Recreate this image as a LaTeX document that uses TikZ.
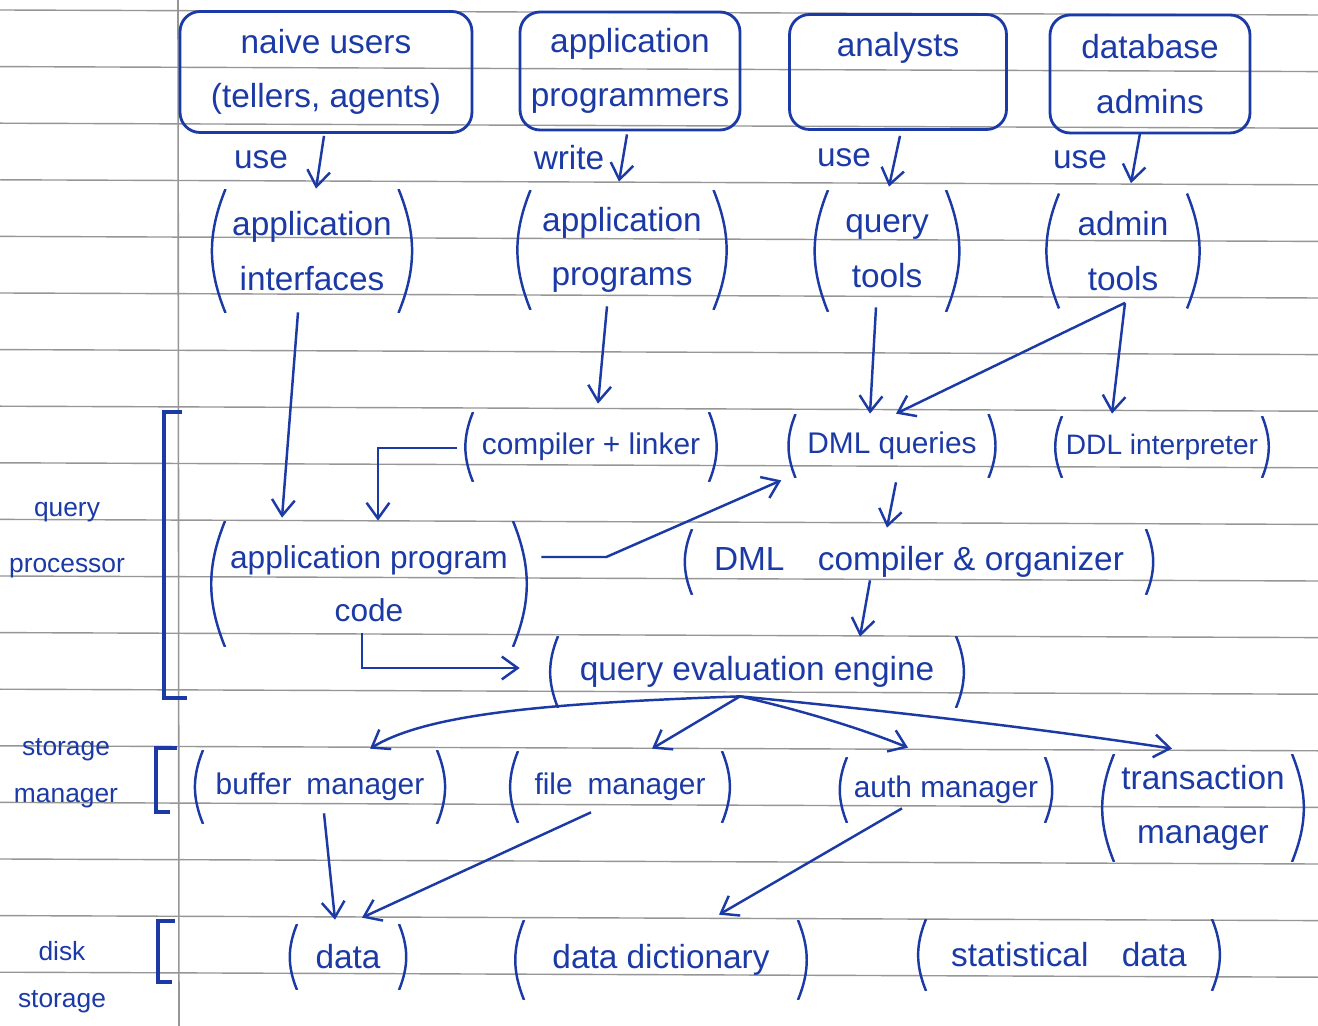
\documentclass[tikz,border=0pt]{standalone}
\usepackage{fontspec}
\setmainfont{Liberation Sans}
\usetikzlibrary{arrows.meta,calc}
\definecolor{ink}{RGB}{28,58,165}
\definecolor{rule}{RGB}{150,150,150}
\begin{document}
\begin{tikzpicture}[x=0.02cm,y=-0.02cm,
  hand/.style={text=ink, font=\fontsize{19}{31}\selectfont, align=center},
  small/.style={font=\fontsize{17}{28}\selectfont},
  side/.style={text=ink, font=\fontsize{15}{27}\selectfont, align=center},
  topbox/.style={hand, draw=ink, line width=1.6pt, rounded corners=0.4cm, inner sep=0pt},
  pn/.style={hand, inner sep=0pt, path picture={
     \draw[ink, line width=1.4pt]
       ([xshift=0.32cm]path picture bounding box.north west) to[bend right=22]
       ([xshift=0.32cm]path picture bounding box.south west);
     \draw[ink, line width=1.4pt]
       ([xshift=-0.32cm]path picture bounding box.north east) to[bend left=22]
       ([xshift=-0.32cm]path picture bounding box.south east);}},
  arr/.style={draw=ink, line width=1.4pt, -{Straight Barb[length=9pt,width=13pt]}},
  bracket/.style={draw=ink, line width=1.8pt}
]
% paper
\fill[white] (0,0) rectangle (1318,1026);
\useasboundingbox (0,0) rectangle (1318,1026);
\foreach \k in {0,...,17}
  \draw[rule, line width=0.8pt] (0,{10+56.6*\k}) -- (1318,{15+56.6*\k});
\draw[rule, line width=0.9pt] (178,0) -- (179,1026);

% users
\node[topbox, minimum width=5.84cm, minimum height=2.42cm] (nu) at (326,72) {naive users\\(tellers, agents)};
\node[topbox, minimum width=4.4cm, minimum height=2.36cm] (ap) at (630,71) {application\\programmers};
\node[topbox, minimum width=4.34cm, minimum height=2.3cm] (an) at (898,72) {analysts\\~};
\node[topbox, minimum width=4.0cm, minimum height=2.36cm] (da) at (1150,74) {database\\admins};

\node[hand] (u1) at (261,160) {use};
\node[hand] (u2) at (569,158) {write};
\node[hand] (u3) at (844,158) {use};
\node[hand] (u4) at (1080,160) {use};

% tools and programs
\node[pn, minimum width=4.1cm, minimum height=2.48cm] (ai) at (312,251) {application\\interfaces};
\node[pn, minimum width=4.3cm, minimum height=2.4cm] (apg) at (622,250) {application\\programs};
\node[pn, minimum width=3.0cm, minimum height=2.44cm] (qt) at (887,251) {query\\tools};
\node[pn, minimum width=3.2cm, minimum height=2.3cm] (adt) at (1123,251) {admin\\tools};

% query processor
\node[pn, small, minimum width=5.36cm, minimum height=1.4cm] (cl) at (591,447) {compiler + linker};
\node[pn, small, minimum width=4.5cm, minimum height=1.28cm] (dq) at (892,446) {DML queries};
\node[pn, font=\fontsize{16}{27}\selectfont, minimum width=4.64cm, minimum height=1.24cm] (ddl) at (1162,447) {DDL interpreter};
\node[pn, font=\fontsize{18}{30}\selectfont, minimum width=6.4cm, minimum height=2.52cm] (apc) at (369,584) {application program\\code};
\node[pn, minimum width=9.72cm, minimum height=1.32cm] (dmlc) at (919,562) {DML\quad compiler \& organizer};
\node[pn, minimum width=8.6cm, minimum height=1.44cm] (qe) at (757,672) {query evaluation engine};

% storage manager
\node[pn, small, minimum width=5.32cm, minimum height=1.48cm] (bm) at (320,787) {buffer\enspace manager};
\node[pn, small, minimum width=4.72cm, minimum height=1.44cm] (fm) at (620,787) {file\enspace manager};
\node[pn, small, minimum width=4.6cm, minimum height=1.32cm] (au) at (946,790) {auth manager};
\node[pn, minimum width=4.2cm, minimum height=2.16cm] (tm) at (1203,808) {transaction\\manager};

% disk storage
\node[pn, minimum width=2.68cm, minimum height=1.32cm] (data) at (348,957) {data};
\node[pn, minimum width=6.12cm, minimum height=1.6cm] (dd) at (661,960) {data dictionary};
\node[pn, minimum width=6.36cm, minimum height=1.44cm] (sd) at (1069,955) {statistical\quad data};

% layer labels and brackets
\node[side, font=\fontsize{15}{32}\selectfont] (lqp) at (67,540) {query\\processor};
\node[side] (lsm) at (66,773) {storage\\manager};
\node[side] (lds) at (62,977) {disk\\storage};
\draw[bracket] (182,412) -- (164,412) -- (164,698) -- (187,698);
\draw[bracket] (177,748) -- (156,748) -- (156,812) -- (170,812);
\draw[bracket] (175,921) -- (158,921) -- (158,982) -- (172,982);

% users to their tools
\draw[arr] ($(nu.south)+(-2,2)$) -- ($(ai.north)+(4,0)$);
\draw[arr] ($(ap.south)+(-3,3)$) -- ($(apg.north)+(-3,-8)$);
\draw[arr] ($(an.south)+(2,5)$) -- ($(qt.north)+(2,-3)$);
\draw[arr] ($(da.south)+(-10,-1)$) -- ($(adt.north)+(8,-10)$);

% tools into the query processor
\draw[arr] ($(ai.south)+(-14,-1)$) -- ($(apc.north)+(-87,-3)$);
\draw[arr] ($(apg.south)+(-15,-4)$) -- ($(cl.north)+(7,-8)$);
\draw[arr] ($(qt.south)+(-11,-5)$) -- ($(dq.north)+(-22,0)$);
\coordinate (adtout) at ($(adt.south)+(2,-6)$);
\draw[arr] (adtout) -- ($(dq.north)+(4,0)$);
\draw[arr] (adtout) -- ($(ddl.north)+(-50,-2)$);

% inside the query processor
\draw[arr] ($(cl.west)+(0,1)$) -| ($(apc.north)+(9,0)$);
\draw[arr] ($(apc.east)+(12,-27)$) -- ++(65,0) -- ($(dq.south west)+(2,2)$);
\draw[arr] ($(dq.south)+(4,4)$) -- ($(dmlc.north)+(-32,-1)$);
\draw[arr] ($(dmlc.south)+(-49,-15)$) -- ($(qe.north)+(103,1)$);
\draw[arr] ($(apc.south)+(-7,-14)$) |- ($(qe.west)+(-22,-4)$);

% evaluation engine to the storage manager
\coordinate (fan) at ($(qe.south)+(-17,-12)$);
\draw[arr] (fan) .. controls (560,703) and (430,712) .. ($(bm.north)+(50,-1)$);
\draw[arr] (fan) -- ($(fm.north)+(32,-2)$);
\draw[arr] (fan) .. controls (800,710) and (860,728) .. ($(au.north)+(-38,-9)$);
\draw[arr] (fan) .. controls (900,712) and (1050,730) .. ($(tm.north)+(-31,-5)$);

% storage manager to disk
\draw[arr] ($(bm.south)+(4,-11)$) -- ($(data.north)+(-13,-4)$);
\draw[arr] ($(fm.south)+(-29,-11)$) -- ($(data.north)+(14,-6)$);
\draw[arr] ($(au.south)+(-44,-15)$) -- ($(dd.north)+(58,-5)$);
\end{tikzpicture}
\end{document}
